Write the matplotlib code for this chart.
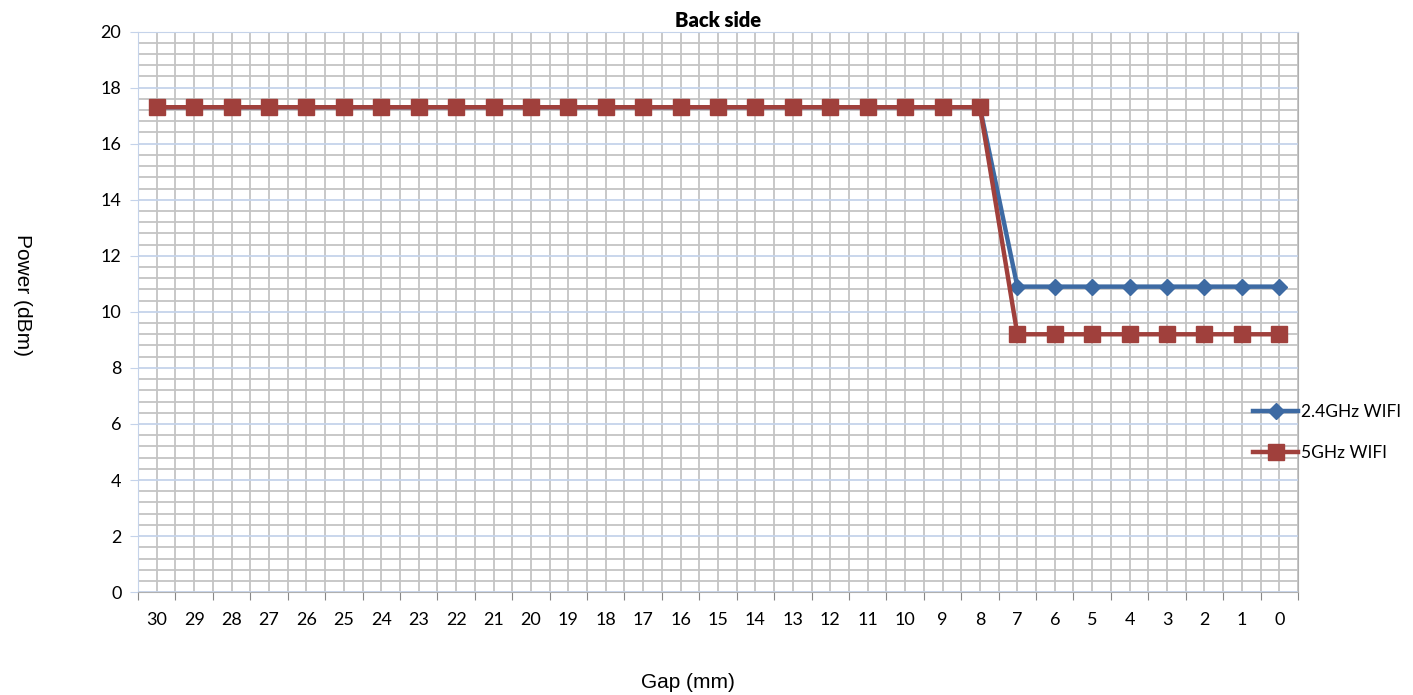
import matplotlib.pyplot as plt
from matplotlib.ticker import MultipleLocator, FixedLocator
import numpy as np

gaps = [str(g) for g in range(30, -1, -1)]
wifi_24 = [17.3] * 23 + [10.9] * 8
wifi_5 = [17.3] * 23 + [9.2] * 8

fig = plt.figure(figsize=(14.13, 6.95), dpi=100)
ax = fig.add_axes([0.0977, 0.148, 0.8209, 0.8066])

x = np.arange(len(gaps))
ax.plot(x, wifi_24, color='#3d6aa3', linewidth=3.2, marker='D', markersize=8,
        label='2.4GHz WIFI', zorder=4)
ax.plot(x, wifi_5, color='#a0403c', linewidth=3.2, marker='s', markersize=11,
        label='5GHz WIFI', zorder=5)

ax.set_xlim(-0.5, len(gaps) - 0.5)
ax.set_ylim(0, 20)

# x: tick marks at category borders, labels at centers
ax.xaxis.set_major_locator(FixedLocator(np.arange(-0.5, len(gaps), 1)))
ax.xaxis.set_minor_locator(FixedLocator(x))
ax.set_xticklabels([])
ax.set_xticklabels(gaps, minor=True, family='Lato')
ax.tick_params(axis='x', which='major', length=6, color='#888888', direction='out')
ax.tick_params(axis='x', which='minor', length=0, pad=14, labelsize=13)

ax.yaxis.set_major_locator(MultipleLocator(2))
ax.yaxis.set_minor_locator(MultipleLocator(0.4))
ax.set_yticks(ax.get_yticks())
ax.set_yticklabels([f'{v:g}' for v in ax.get_yticks()], family='Lato')
ax.set_ylim(0, 20)
ax.tick_params(axis='y', which='major', length=6, color='#c5d3ea', labelsize=13, pad=6)
ax.tick_params(axis='y', which='minor', length=0)

ax.grid(True, axis='x', which='both', color='#c4c4c4', linewidth=1.3, zorder=0)
ax.grid(True, axis='y', which='minor', color='#c4c4c4', linewidth=1.3, zorder=0)
ax.grid(True, axis='y', which='major', color='#c5d3ea', linewidth=1.3, zorder=0)
ax.set_axisbelow(True)

for side in ['left', 'top']:
    ax.spines[side].set_color('#c5d3ea')
for side in ['right', 'bottom']:
    ax.spines[side].set_color('#b0b0b0')

ax.set_title('Back side', fontsize=14.5, fontweight='heavy', pad=3, family='Lato')
fig.text(0.016, 0.576, 'Power (dBm)', rotation=-90, ha='center', va='center',
         fontsize=15, family='Liberation Sans')
fig.text(0.487, 0.018, 'Gap (mm)', ha='center', va='center',
         fontsize=15, family='Liberation Sans')

ax.legend(loc='upper left', bbox_to_anchor=(0.887, 0.419),
          bbox_transform=fig.transFigure, frameon=False, borderpad=0,
          borderaxespad=0, prop={'family': 'Lato', 'size': 12.5},
          handlelength=2.6, handletextpad=0.15, labelspacing=1.45)

fig.savefig('out.png', dpi=100)
